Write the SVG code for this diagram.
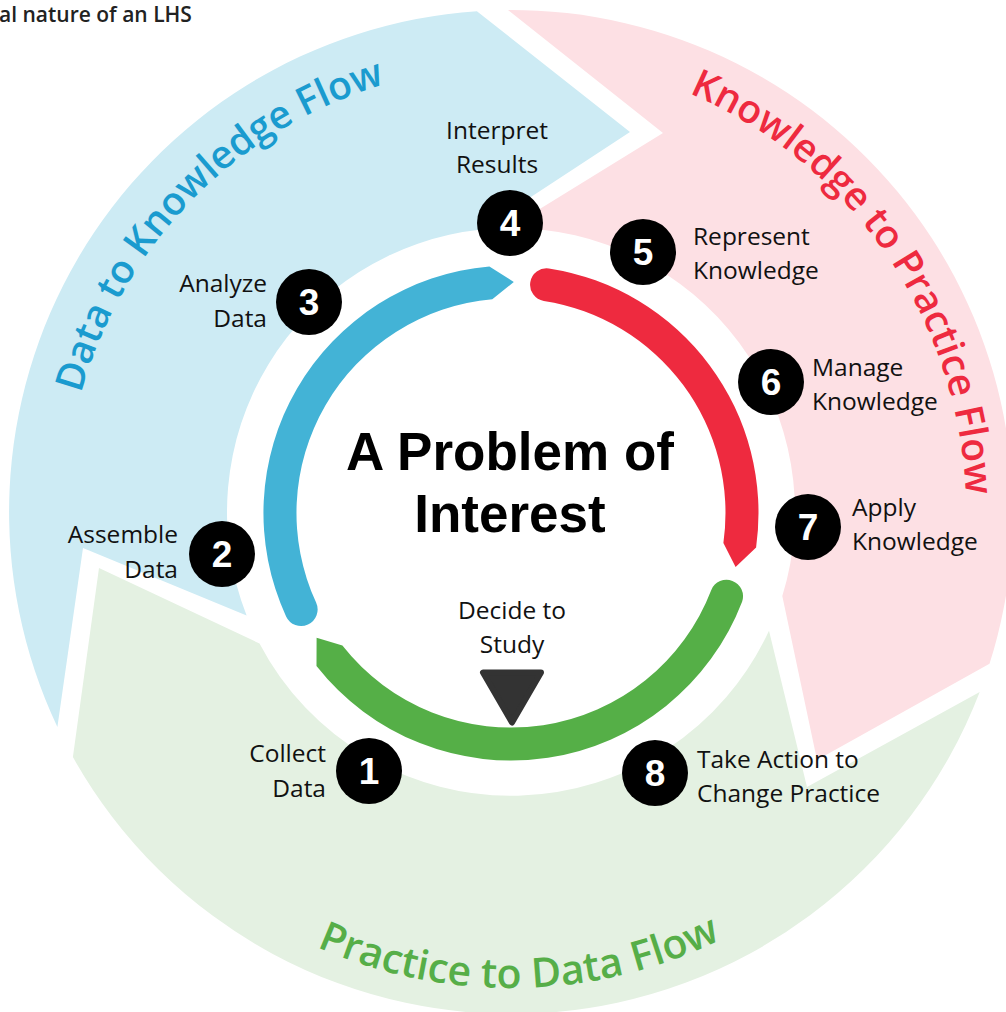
<svg xmlns="http://www.w3.org/2000/svg" width="1006" height="1012" viewBox="0 0 1006 1012">
<style>
.lbl{font-family:"Open Sans","Liberation Sans",sans-serif;font-size:24.5px;fill:#111}
.num{font-family:"Liberation Sans",Arial,sans-serif;font-weight:bold;font-size:37px;fill:#fff;text-anchor:middle}
.dot{fill:#000}
.flow{font-family:"Open Sans","Liberation Sans",sans-serif;font-weight:600;font-size:39px}
.title{font-family:"Liberation Sans",Arial,sans-serif;font-weight:bold;font-size:53px;fill:#000;text-anchor:middle}
.r{text-anchor:end}.m{text-anchor:middle}
</style>
<defs>
<path id="pBlue" d="M 81.2 631.2 A 446 446 0 0 1 622.7 80.2"/>
<path id="pRed" d="M 474.9 58.4 A 455 455 0 0 1 921.9 707.5"/>
<path id="pGreen" d="M 102.3 758 A 478 478 0 0 0 928.4 742.9"/>
</defs>
<rect width="1006" height="1012" fill="#fff"/>
<text x="-1" y="22" style="font-family:'Open Sans','Liberation Sans',sans-serif;font-weight:600;font-size:21px;fill:#222">al nature of an LHS</text>
<g id="bands">
<path id="band-blue" fill="#cdebf4" d="M 57.4 726.9 A 502 502 0 0 1 476.9 11.2 L 630 132 L 481.4 229.5 A 284 284 0 0 0 246.6 615.6 L 83 548 Z"/>
<path id="band-red" fill="#fde0e4" d="M 508 10 A 502 502 0 0 1 989.5 663.8 L 817 760 L 782.3 596 A 284 284 0 0 0 508.9 228 L 663 133 Z"/>
<path id="band-green" fill="#e4f1e2" d="M 979.7 691.9 A 502 502 0 0 1 72.9 757.1 L 99 568 L 259.5 643.5 A 284 284 0 0 0 769 630.7 L 807 787 Z"/>
<text class="flow" fill="#1a9bcf"><textPath href="#pBlue" startOffset="50%" text-anchor="middle">Data to Knowledge Flow</textPath></text>
<text class="flow" fill="#ee2a3f"><textPath href="#pRed" startOffset="50%" text-anchor="middle">Knowledge to Practice Flow</textPath></text>
<text class="flow" fill="#56ae48" style="font-size:41px"><textPath href="#pGreen" startOffset="50%" text-anchor="middle">Practice to Data Flow</textPath></text>
</g>
<g id="connectors">
<path id="arc-blue" fill="#43b3d6" d="M 286.1 616.4 A 247.5 247.5 0 0 1 489.4 266.4 L 513.8 282 L 492.3 299.3 A 214.5 214.5 0 0 0 316.1 602.6 A 16.5 16.5 0 0 1 286.1 616.4 Z"/>
<path id="arc-red" fill="#ee2a3f" d="M 548.9 268.4 A 247.5 247.5 0 0 1 756.1 547.4 L 735.6 566.9 L 723.4 542.9 A 214.5 214.5 0 0 0 543.8 301 A 16.5 16.5 0 0 1 548.9 268.4 Z"/>
<path id="arc-green" fill="#55af47" d="M 742.1 601.7 A 247.5 247.5 0 0 1 316.5 666 L 316.6 637.8 L 342.4 645.6 A 214.5 214.5 0 0 0 711.3 589.9 A 16.5 16.5 0 0 1 742.1 601.7 Z"/>
</g>
<g id="center">
<text class="title" x="510" y="470">A Problem of</text>
<text class="title" x="510" y="532">Interest</text>
</g>
<g id="decide">
<text class="lbl m" x="512" y="619">Decide to</text>
<text class="lbl m" x="512" y="653">Study</text>
<path d="M 483 672.5 L 541 672.5 L 512 722.5 Z" fill="#333" stroke="#333" stroke-width="6" stroke-linejoin="round"/>
</g>
<g id="node1">
<circle class="dot" cx="369" cy="771" r="33"/><text class="num" x="369" y="784">1</text>
<text class="lbl r" x="326" y="762">Collect</text><text class="lbl r" x="326" y="797">Data</text>
</g>
<g id="node2">
<circle class="dot" cx="222" cy="554" r="33"/><text class="num" x="222" y="567">2</text>
<text class="lbl r" x="178" y="543">Assemble</text><text class="lbl r" x="178" y="578">Data</text>
</g>
<g id="node3">
<circle class="dot" cx="309" cy="302" r="33"/><text class="num" x="309" y="315">3</text>
<text class="lbl r" x="267" y="292">Analyze</text><text class="lbl r" x="267" y="327">Data</text>
</g>
<g id="node4">
<circle class="dot" cx="510" cy="223" r="33"/><text class="num" x="510" y="236">4</text>
<text class="lbl m" x="497" y="139">Interpret</text><text class="lbl m" x="497" y="173">Results</text>
</g>
<g id="node5">
<circle class="dot" cx="643" cy="252" r="33"/><text class="num" x="643" y="265">5</text>
<text class="lbl" x="693" y="245">Represent</text><text class="lbl" x="693" y="279">Knowledge</text>
</g>
<g id="node6">
<circle class="dot" cx="771" cy="382" r="33"/><text class="num" x="771" y="395">6</text>
<text class="lbl" x="812" y="376">Manage</text><text class="lbl" x="812" y="410">Knowledge</text>
</g>
<g id="node7">
<circle class="dot" cx="808" cy="527" r="33"/><text class="num" x="808" y="540">7</text>
<text class="lbl" x="852" y="516">Apply</text><text class="lbl" x="852" y="550">Knowledge</text>
</g>
<g id="node8">
<circle class="dot" cx="655" cy="773" r="33"/><text class="num" x="655" y="786">8</text>
<text class="lbl" x="697" y="768">Take Action to</text><text class="lbl" x="697" y="802">Change Practice</text>
</g>
</svg>
